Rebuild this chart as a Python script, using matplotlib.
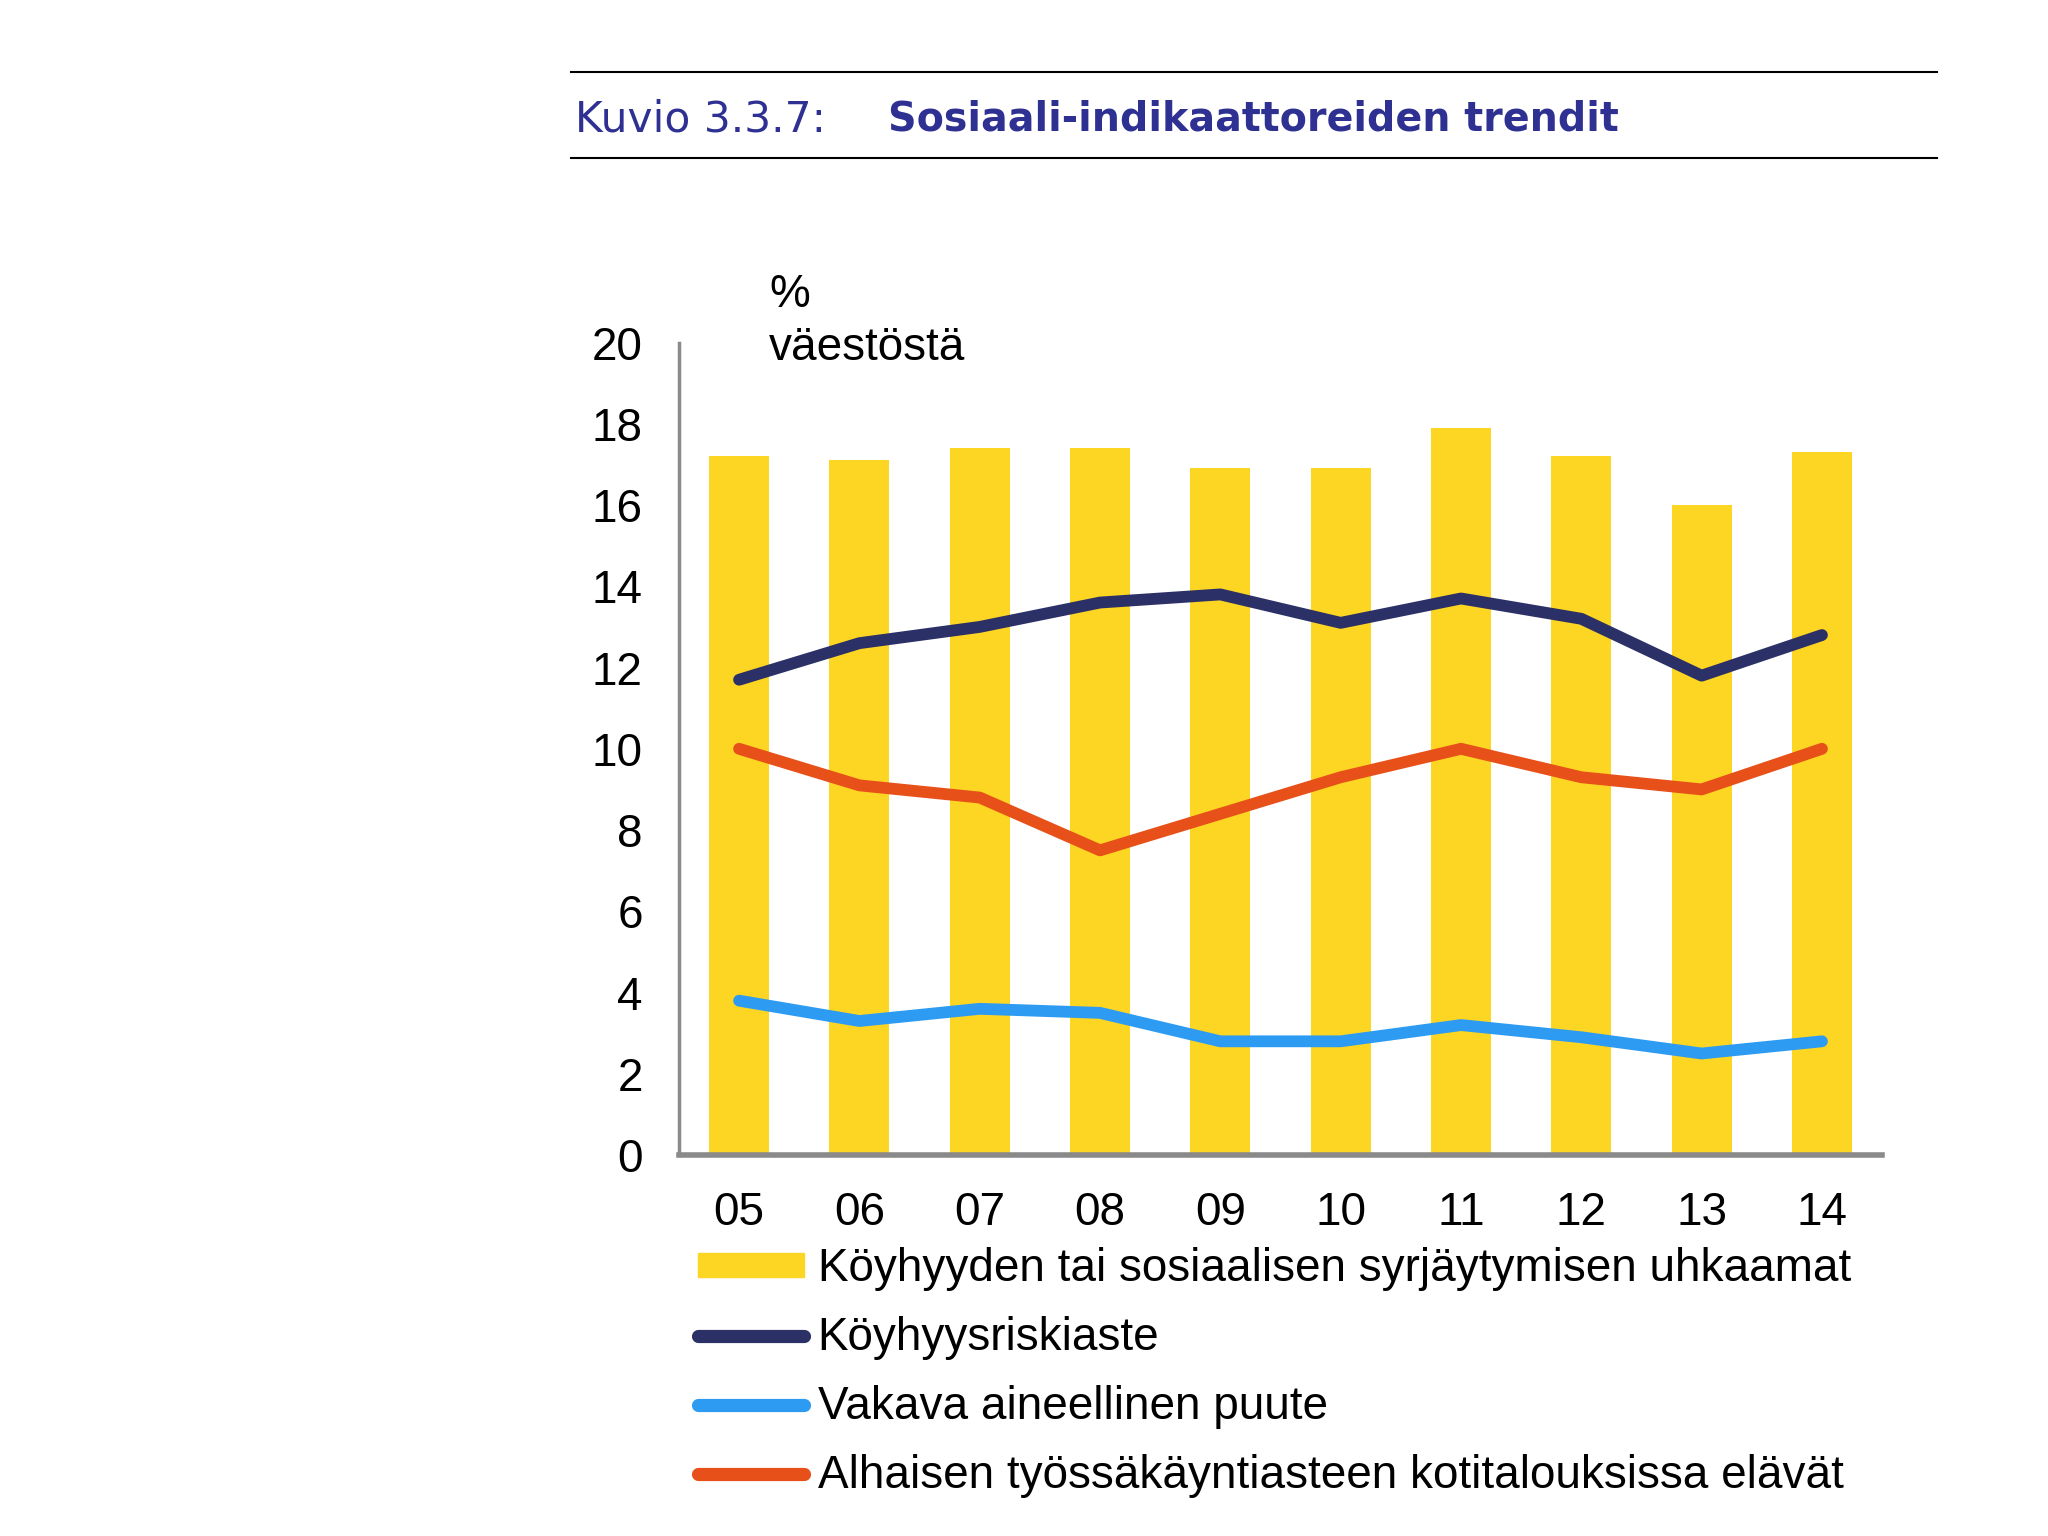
import numpy as np
import matplotlib.pyplot as plt
from matplotlib.lines import Line2D
from matplotlib.patches import Patch

years = ["05", "06", "07", "08", "09", "10", "11", "12", "13", "14"]
uhkaamat = [17.2, 17.1, 17.4, 17.4, 16.9, 16.9, 17.9, 17.2, 16.0, 17.3]
riskiaste = [11.7, 12.6, 13.0, 13.6, 13.8, 13.1, 13.7, 13.2, 11.8, 12.8]
puute = [3.8, 3.3, 3.6, 3.5, 2.8, 2.8, 3.2, 2.9, 2.5, 2.8]
alhainen = [10.0, 9.1, 8.8, 7.5, 8.4, 9.3, 10.0, 9.3, 9.0, 10.0]

labels = ["Köyhyyden tai sosiaalisen syrjäytymisen uhkaamat",
          "Köyhyysriskiaste",
          "Vakava aineellinen puute",
          "Alhaisen työssäkäyntiasteen kotitalouksissa elävät"]

yellow = "#FDD523"
navy = "#2B3066"
blue = "#2E9BF2"
orange = "#E8501A"
title_col = "#2E3192"

plt.rcParams['font.family'] = ['Liberation Sans', 'DejaVu Sans']
fs = 33

fig = plt.figure(figsize=(20.48, 15.36), dpi=100)
ax = fig.add_axes([0.3315, 0.248, 0.5875, 0.529])

x = np.arange(len(years))
ax.bar(x, uhkaamat, width=0.5, color=yellow, zorder=1)
lw = 8.5
ax.plot(x, riskiaste, color=navy, lw=lw, solid_capstyle="round", zorder=3)
ax.plot(x, alhainen, color=orange, lw=lw, solid_capstyle="round", zorder=3)
ax.plot(x, puute, color=blue, lw=lw, solid_capstyle="round", zorder=3)

ax.set_xlim(-0.5, 9.5)
ax.set_ylim(0, 20)
ax.set_yticks(range(0, 21, 2))
ax.set_xticks(x)
ax.set_xticklabels(years)
ax.tick_params(length=0, labelsize=fs)
ax.tick_params(axis="y", pad=26)
ax.tick_params(axis="x", pad=26)
for s in ["top", "right"]:
    ax.spines[s].set_visible(False)
ax.spines["left"].set_color("#8a8a8a")
ax.spines["left"].set_linewidth(2.5)
ax.spines["bottom"].set_color("#8a8a8a")
ax.spines["bottom"].set_linewidth(4)
ax.spines["left"].set_zorder(4)
ax.spines["bottom"].set_zorder(4)

ax.text(0.075, 1.085, "%\nväestöstä", transform=ax.transAxes, fontsize=fs,
        va="top", ha="left", linespacing=1.25)

handles = [Patch(color=yellow),
           Line2D([], [], color=navy, lw=9.5, solid_capstyle="round"),
           Line2D([], [], color=blue, lw=9.5, solid_capstyle="round"),
           Line2D([], [], color=orange, lw=9.5, solid_capstyle="round")]
fig.legend(handles, labels, loc="upper left", bbox_to_anchor=(0.341, 0.188),
           frameon=False, fontsize=fs, handlelength=2.3, handleheight=0.45,
           handletextpad=0.3, labelspacing=0.545, borderaxespad=0, borderpad=0)

# title block
fig.add_artist(Line2D([0.279, 0.946], [0.953, 0.953], color="black", lw=1.5))
fig.add_artist(Line2D([0.279, 0.946], [0.897, 0.897], color="black", lw=1.5))
fig.text(0.281, 0.922, "Kuvio 3.3.7:", fontsize=30.5, color=title_col,
         va="center", ha="left", family=["DejaVu Sans"], fontweight="normal")
fig.text(0.4336, 0.922, "Sosiaali-indikaattoreiden trendit", fontsize=28.5,
         color=title_col, va="center", ha="left", family=["DejaVu Sans"],
         fontweight="bold")

fig.savefig("out.png", dpi=100)
